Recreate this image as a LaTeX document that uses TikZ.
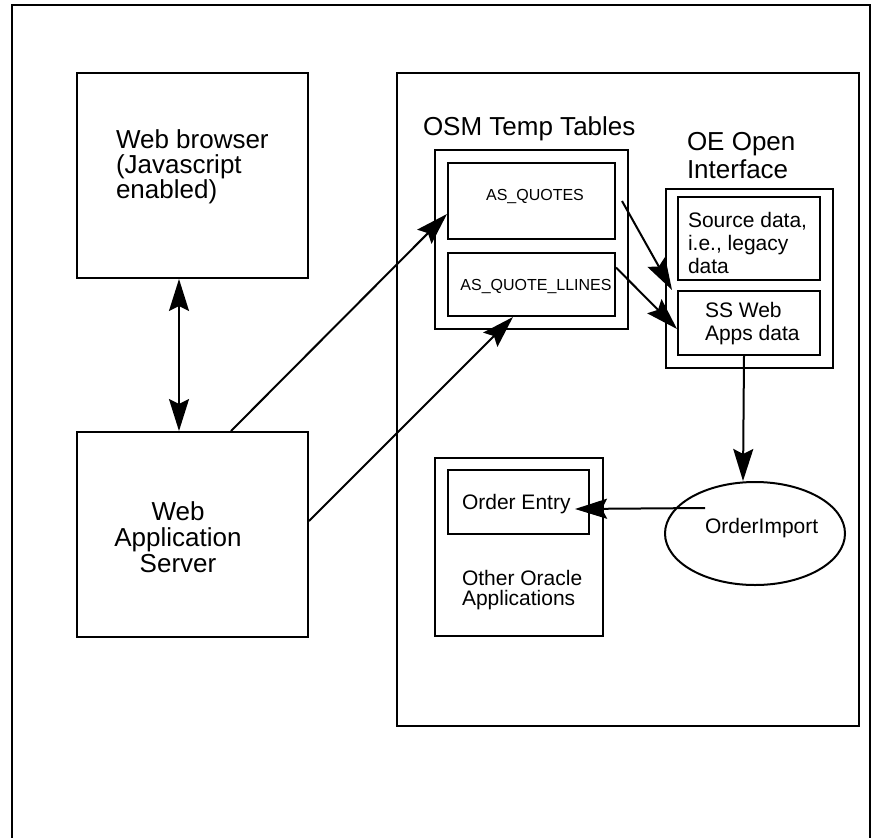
\documentclass[tikz,border=0pt]{standalone}
\usepackage{fontspec}
\setmainfont{Liberation Sans}
\usetikzlibrary{arrows.meta,shapes.geometric}

\begin{document}
\begin{tikzpicture}[x=1pt,y=-1pt,line width=2pt,
    every node/.style={inner sep=0pt},
    >={Stealth[length=32pt,width=20pt,inset=5pt]},
    box/.style={draw,anchor=north west},
    big/.style={font=\fontsize{26}{25}\selectfont,align=left,anchor=base west},
    small/.style={font=\fontsize{21}{23}\selectfont,align=left,anchor=base west},
    tiny/.style={font=\fontsize{16}{18}\selectfont,anchor=base}]
  \useasboundingbox (0,0) rectangle (873,838);
  \draw (12,838)--(12,5)--(870,5)--(870,838);
  % left side
  \node[box,minimum width=231pt,minimum height=205pt] (browser) at (76,72) {};
  \node[box,minimum width=231pt,minimum height=205pt] (server) at (76,431) {};
  \node[big] (browsertxt) at (115,198) {Web browser\\(Javascript\\enabled)};
  \node[big,align=center,anchor=base,font=\fontsize{26}{26}\selectfont]
    (servertxt) at (178,572) {Web\\Application\\Server};
  % right side
  \node[box,minimum width=462pt,minimum height=653pt] (apps) at (396,72) {};
  \node[big] (osmtxt) at (422,135) {OSM Temp Tables};
  \node[box,minimum width=193pt,minimum height=179pt] (osm) at (434,149) {};
  \node[box,minimum width=167pt,minimum height=76pt] (quotes) at (447,162) {};
  \node[box,minimum width=167pt,minimum height=63pt] (llines) at (447,252) {};
  \node[tiny] (quotestxt) at (535,200) {AS\_QUOTES};
  \node[tiny] (llinestxt) at (536,290) {AS\_QUOTE\_LLINES};
  \node[big,font=\fontsize{26}{28}\selectfont] (oetxt) at (686,178) {OE Open\\Interface};
  \node[box,minimum width=167pt,minimum height=179pt] (oe) at (665,188) {};
  \node[box,minimum width=142pt,minimum height=83pt] (source) at (677,196) {};
  \node[box,minimum width=142pt,minimum height=64pt] (ss) at (677,290) {};
  \node[small] (sourcetxt) at (687,273) {Source data,\\i.e., legacy\\data};
  \node[small] (sstxt) at (704,340) {SS Web\\Apps data};
  \node[draw,ellipse,minimum width=180pt,minimum height=103pt] (imp) at (755,533.5) {};
  \node[small] (imptxt) at (704,533) {OrderImport};
  \node[box,minimum width=168pt,minimum height=178pt] (other) at (434,457) {};
  \node[box,minimum width=141pt,minimum height=64pt] (entry) at (447,469) {};
  \node[small] (entrytxt) at (461,509) {Order Entry};
  \node[small,font=\fontsize{21}{20}\selectfont] (othertxt) at (461,605) {Other Oracle\\Applications};
  % arrows
  \draw[<->] ([xshift=-13.5pt]browser.south) -- ([xshift=-13.5pt]server.north);
  \draw[->] ([xshift=38.5pt]server.north) -- ([yshift=-13pt]quotes.west);
  \draw[->] ([yshift=13.5pt]server.east) -- ([xshift=-18.5pt]llines.south);
  \draw[->] ([xshift=6pt]quotes.east) -- ([xshift=-5pt]ss.north west);
  \draw[->] ([yshift=17pt]llines.east) -- ([yshift=-6pt]ss.west);
  \draw[->] ([xshift=-5pt]ss.south) -- ([xshift=-12pt]imp.north);
  \draw[->] ([shift={(-50pt,25.5pt)}]imp.center) -- ([shift={(-15pt,-7pt)}]entry.east);
\end{tikzpicture}
\end{document}
